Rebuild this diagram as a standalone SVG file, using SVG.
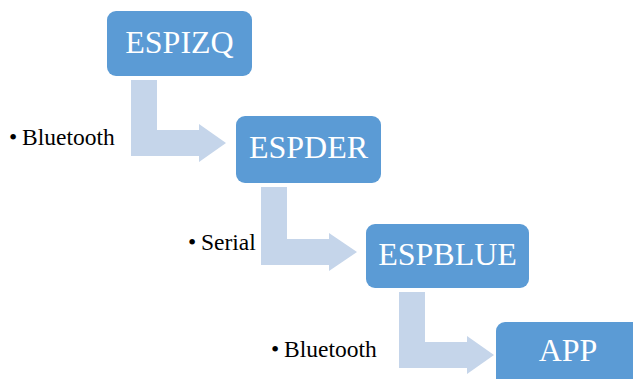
<svg xmlns="http://www.w3.org/2000/svg" width="633" height="379" viewBox="0 0 633 379">
<style>
.box{fill:#5B9BD5;}
.arr{fill:#C5D5EA;}
.nt{font-family:"Liberation Serif","Times New Roman",serif;font-size:32px;fill:#FFFFFF;text-anchor:middle;}
.lb{font-family:"Liberation Serif","Times New Roman",serif;font-size:23.5px;fill:#000000;}
</style>
<rect width="633" height="379" fill="#FFFFFF"/>
<g id="connectors">
<path class="arr" d="M131,80 H157 V130 H199 V124 L226,143 L199,162 V156 H131 Z"/>
<path class="arr" d="M261,187 H287 V239 H329 V233 L357,252 L329,271 V265 H261 Z"/>
<path class="arr" d="M399,292 H425 V342 H467 V336 L494,355 L467,374 V368 H399 Z"/>
</g>
<g id="espizq">
<rect class="box" x="107" y="11" width="145" height="65" rx="9"/>
<text class="nt" x="179.5" y="53">ESPIZQ</text>
</g>
<g id="espder">
<rect class="box" x="236" y="116" width="145" height="67" rx="9"/>
<text class="nt" x="308.5" y="158">ESPDER</text>
</g>
<g id="espblue">
<rect class="box" x="366" y="224" width="163" height="64" rx="9"/>
<text class="nt" x="447.5" y="265">ESPBLUE</text>
</g>
<g id="app">
<rect class="box" x="496" y="322" width="145" height="70" rx="9"/>
<text class="nt" x="568" y="361">APP</text>
</g>
<g id="labels">
<text class="lb" y="145"><tspan x="9">•</tspan><tspan x="22">Bluetooth</tspan></text>
<text class="lb" y="250"><tspan x="188">•</tspan><tspan x="201">Serial</tspan></text>
<text class="lb" y="357"><tspan x="271">•</tspan><tspan x="284">Bluetooth</tspan></text>
</g>
</svg>
